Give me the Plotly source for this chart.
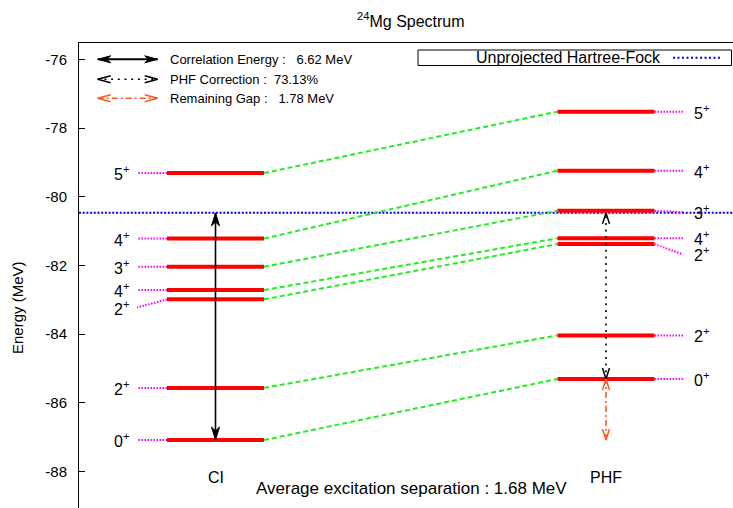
import math
import plotly.graph_objects as go

# ---- canvas / layout constants -------------------------------------------
W, H = 733, 508
ML, MT = 79, 43
PW, PH = W - ML, H - MT
FONT = "Liberation Sans, Arial, Helvetica, sans-serif"

# ---- data: 24Mg level energies (MeV) ---------------------------------------
hf_energy = -80.47                       # unprojected Hartree-Fock
ci_energies = [-87.09, -85.57, -82.99, -82.72, -82.04, -81.22, -79.31]
ci_spins = ["0", "2", "2", "4", "3", "4", "5"]
ci_label_energies = [-87.09, -85.57, -83.23, -82.72, -82.04, -81.22, -79.31]

phf_energies = [-85.311, -84.04, -81.38, -81.21, -80.41, -79.24, -77.52]
phf_spins = ["0", "2", "2", "4", "3", "4", "5"]
phf_label_energies = [-85.311, -84.04, -81.68, -81.21, -80.45, -79.24, -77.52]

methods = ["CI", "PHF"]
method_x = [0.0, 1.0]
y_ticks = [-76, -78, -80, -82, -84, -86, -88]
y_tick_text = ["-76", "-78", "-80", "-82", "-84", "-86", "-88"]

legend_texts = [
    "Correlation Energy :\u00a0\u00a0 6.62 MeV",
    "PHF Correction :\u00a0 73.13%",
    "Remaining Gap :\u00a0\u00a0 1.78 MeV",
]
hf_legend_text = "Unprojected Hartree-Fock"
summary_text = "Average excitation separation : 1.68 MeV"
title_text = "<sup>24</sup>Mg Spectrum"

# ---- axis ranges ----------------------------------------------------------
PX_PER_UNIT = 390.5                      # horizontal spacing of the two columns
X_LO = -(215.5 - ML) / PX_PER_UNIT
X_HI = 1 + (W - 606) / PX_PER_UNIT
Y_LO, Y_HI = -89.07, -75.52
SX = (X_HI - X_LO) / PW                  # x units per pixel
SY = (Y_HI - Y_LO) / PH                  # MeV per pixel

HALF = 48.5 * SX                         # half width of a level bar
STUB_L = 78.5 * SX                       # end of left label connector
STUB_R = 77.0 * SX                       # end of right label connector

RED = "#ff0000"
GREEN = "#22ee22"
MAGENTA = "#ff00ff"
BLUE = "#0000ff"
ORANGE = "#ff5a1e"


def pxx(p):
    """Horizontal canvas pixel -> paper fraction."""
    return (p - ML) / PW


def pxy(p):
    """Vertical canvas pixel (from top) -> paper fraction."""
    return (H - p) / PH


fig = go.Figure()


def seg(xs, ys, color, width, dash="solid", xa="x", ya="y"):
    return go.Scatter(x=xs, y=ys, mode="lines",
                      line=dict(color=color, width=width, dash=dash),
                      hoverinfo="skip", showlegend=False, xaxis=xa, yaxis=ya,
                      cliponaxis=False)


def add_arrow(x0, y0, x1, y1, color, width, dash, filled, sx, sy,
              xa="x", ya="y", length=12, half_w=4):
    """Double headed arrow between (x0, y0) and (x1, y1)."""
    fig.add_trace(seg([x0, x1], [y0, y1], color, width, dash, xa, ya))
    for tx, ty, ox, oy in ((x1, y1, x0, y0), (x0, y0, x1, y1)):
        dx, dy = (tx - ox) / sx, (ty - oy) / sy
        n = math.hypot(dx, dy)
        ux, uy = dx / n, dy / n
        bx, by = -ux * length, -uy * length
        nx, ny = -uy * half_w, ux * half_w
        lx, ly = tx + (bx + nx) * sx, ty + (by + ny) * sy
        rx, ry = tx + (bx - nx) * sx, ty + (by - ny) * sy
        if filled:
            cx, cy = tx + bx * 0.7 * sx, ty + by * 0.7 * sy
            fig.add_trace(go.Scatter(
                x=[lx, tx, rx, cx, lx], y=[ly, ty, ry, cy, ly], mode="lines",
                fill="toself", fillcolor=color, line=dict(color=color, width=1),
                hoverinfo="skip", showlegend=False, xaxis=xa, yaxis=ya,
                cliponaxis=False))
        else:
            fig.add_trace(seg([lx, tx, rx], [ly, ty, ry], color, 1.5,
                              "solid", xa, ya))


# Hartree-Fock reference line
fig.add_trace(seg([X_LO, X_HI], [hf_energy, hf_energy], BLUE, 2, "2px,1.7px"))

# green connectors between corresponding CI and PHF states
gx, gy = [], []
for e_ci, e_phf in zip(ci_energies, phf_energies):
    gx += [method_x[0] + HALF, method_x[1] - HALF, None]
    gy += [e_ci, e_phf, None]
fig.add_trace(seg(gx, gy, GREEN, 2, "5px,3px"))

# magenta label connectors
mx, my = [], []
for e, el in zip(ci_energies, ci_label_energies):
    mx += [method_x[0] - HALF, method_x[0] - STUB_L, None]
    my += [e, el, None]
for e, el in zip(phf_energies, phf_label_energies):
    mx += [method_x[1] + HALF, method_x[1] + STUB_R, None]
    my += [e, el, None]
fig.add_trace(seg(mx, my, MAGENTA, 2, "1.5px,1.5px"))

# red level bars
for xc, energies in zip(method_x, [ci_energies, phf_energies]):
    bx, by = [], []
    for e in energies:
        bx += [xc - HALF, xc + HALF, None]
        by += [e, e, None]
    fig.add_trace(seg(bx, by, RED, 4))

# correlation energy / PHF correction / remaining gap arrows
add_arrow(method_x[0], ci_energies[0], method_x[0], hf_energy,
          "black", 1.6, "solid", True, SX, SY, length=13, half_w=4)
add_arrow(method_x[1], phf_energies[0], method_x[1], hf_energy,
          "black", 1.6, "2px,4.7px", False, SX, SY, length=11, half_w=3.5)
add_arrow(method_x[1], ci_energies[0], method_x[1], phf_energies[0],
          ORANGE, 1.6, "6px,3px,2px,3px", False, SX, SY, length=11, half_w=3.5)

annotations = []
# spin labels
for s, el in zip(ci_spins, ci_label_energies):
    annotations.append(dict(x=method_x[0] - 84.5 * SX, y=el, xref="x", yref="y",
                            text=f"{s}<sup>+</sup>", showarrow=False,
                            xanchor="right", yanchor="middle",
                            font=dict(size=16, color="black", family=FONT)))
for s, el in zip(phf_spins, phf_label_energies):
    annotations.append(dict(x=method_x[1] + 86 * SX, y=el, xref="x", yref="y",
                            text=f"{s}<sup>+</sup>", showarrow=False,
                            xanchor="left", yanchor="middle",
                            font=dict(size=16, color="black", family=FONT)))

# method names under the columns
for name, xc in zip(methods, method_x):
    annotations.append(dict(x=xc, y=pxy(477), xref="x", yref="paper", text=name,
                            showarrow=False, xanchor="center", yanchor="middle",
                            font=dict(size=16, color="black", family=FONT)))

# key for the arrows (pixel overlay axes)
key_rows = [59.3, 79.3, 98.3]
key_styles = [("black", "solid", True), ("black", "2px,4.7px", False),
              (ORANGE, "6px,3px,2px,3px", False)]
for yk, (col, dsh, fil), txt in zip(key_rows, key_styles, legend_texts):
    add_arrow(97.7, yk, 157.7, yk, col, 2 if fil else 1.6, dsh, fil, 1, 1,
              xa="x2", ya="y2", length=13, half_w=3.5)
    annotations.append(dict(x=pxx(168), y=pxy(yk), xref="paper", yref="paper",
                            text=txt, showarrow=False, xanchor="left",
                            yanchor="middle",
                            font=dict(size=13, color="black", family=FONT)))

# Hartree-Fock key box
fig.add_trace(seg([673, 720], [57.8, 57.8], BLUE, 2, "2px,2.5px", "x2", "y2"))
annotations.append(dict(x=pxx(663), y=pxy(57.8), xref="paper", yref="paper",
                        text=hf_legend_text, showarrow=False, xanchor="right",
                        yanchor="middle",
                        font=dict(size=16, color="black", family=FONT)))

# title, axis title and summary line
annotations.append(dict(x=pxx(411), y=pxy(20), xref="paper", yref="paper",
                        text=title_text, showarrow=False, xanchor="center",
                        yanchor="middle",
                        font=dict(size=16, color="black", family=FONT)))
annotations.append(dict(x=pxx(18), y=pxy(308), xref="paper", yref="paper",
                        text="Energy (MeV)", textangle=-90, showarrow=False,
                        xanchor="center", yanchor="middle",
                        font=dict(size=15, color="black", family=FONT)))
annotations.append(dict(x=pxx(411), y=pxy(488), xref="paper", yref="paper",
                        text=summary_text, showarrow=False, xanchor="center",
                        yanchor="middle",
                        font=dict(size=17, color="black", family=FONT)))

shapes = [dict(type="rect", xref="paper", yref="paper",
               x0=pxx(418), x1=pxx(731.5), y0=pxy(65.5), y1=pxy(50),
               line=dict(color="black", width=1), fillcolor="rgba(0,0,0,0)",
               layer="above")]

fig.update_layout(
    width=W, height=H,
    margin=dict(l=ML, r=0, t=MT, b=0, pad=0),
    paper_bgcolor="white", plot_bgcolor="white",
    showlegend=False,
    annotations=annotations,
    shapes=shapes,
    xaxis=dict(range=[X_LO, X_HI], side="top", showline=True, linecolor="black",
               linewidth=1, ticks="", showticklabels=False, showgrid=False,
               zeroline=False, fixedrange=True),
    yaxis=dict(range=[Y_LO, Y_HI], showline=True, linecolor="black", linewidth=1,
               ticks="inside", ticklen=6, tickcolor="black", tickwidth=1,
               tickvals=y_ticks, ticktext=y_tick_text, showgrid=False,
               zeroline=False, ticklabelstandoff=8,
               tickfont=dict(size=15, color="black", family=FONT)),
    xaxis2=dict(range=[ML, W], overlaying="x", anchor="y2", visible=False),
    yaxis2=dict(range=[H, MT], overlaying="y", anchor="x2", visible=False),
)

fig.write_html("out.html")
